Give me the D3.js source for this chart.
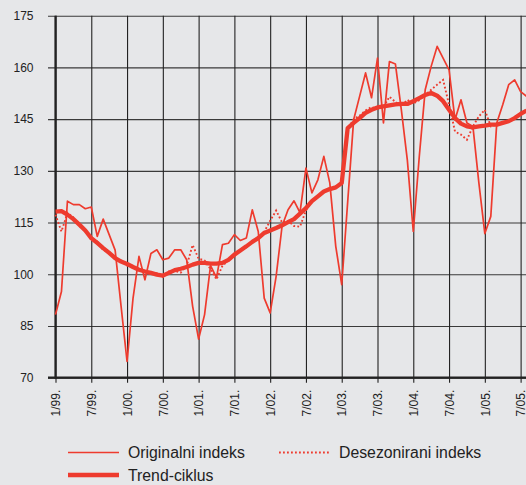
<!DOCTYPE html>
<html>
<head>
<meta charset="utf-8">
<script src="https://cdn.jsdelivr.net/npm/d3@7"></script>
<style>
  html, body { margin: 0; padding: 0; background: #e6e7e9; }
  svg { display: block; font-family: "Liberation Sans", Arial, sans-serif; }
</style>
</head>
<body>
<svg id="chart" width="526" height="485"></svg>
<script>
// mjesečni podaci, 1/99. – 8/05.
const originalni = [
  88.3, 95, 121.2, 120.2, 120.2, 119, 119.5, 111, 116, 111.5, 107, 90.7,
  74.7, 93, 105.2, 98.4, 106, 107.1, 104.2, 104.7, 107.1, 107.1, 104.2, 90.7,
  81.2, 88.3, 102.5, 99, 108.6, 109, 111.5, 109.8, 110.5, 118.7, 112.4, 93.1,
  88.8, 99.4, 114, 118.7, 121.3, 117.9, 130.8, 123.6, 127.4, 134.2, 126.5, 108.1,
  97, 121, 144.8, 151.6, 158.4, 151.2, 162.7, 143.9, 161.7, 161, 147.7, 133.2,
  112.4, 134, 153.5, 160.3, 166.1, 162.7, 159.3, 144.8, 150.6, 143.9, 142.9, 126.5,
  111.8, 116.8, 143.9, 149.2, 155, 156.4, 153, 151.6
];
const desezonirani = [
  117.3, 112.4, 117.8, 116.5, 114, 113, 110, 109.5, 107, 106.5, 104.5, 104,
  102.5, 102.5, 101, 101, 100, 100.3, 99.2, 100.8, 101, 100.5, 102.5, 108.5,
  104.5, 104, 101.5, 98.5, 102.5, 104, 105.3, 107.2, 107.8, 109.7, 110.3, 112.3,
  115.5, 118.5, 115, 115.5, 114, 113.8, 118.5, 121.5, 122.3, 124.3, 124.5, 125.5,
  126.3, 141.9, 145, 146, 147.5, 148.5, 148, 148.5, 151.5, 150, 148.7, 150.6,
  149.5, 150.5, 152, 153.5, 155, 156.4, 149.2, 141.4, 140.5, 139, 142.9, 145.8,
  147.7, 142.9, 143.4, 144, 144.2, 145.5, 146.3, 147.6
];
const trend = [
  118.2, 118.3, 117.3, 116, 114.4, 112.7, 110.5, 109.1, 107.6, 106.2, 104.7, 103.7,
  103, 102.1, 101.3, 100.8, 100.4, 99.9, 99.6, 100.4, 101.2, 101.6, 102.1, 102.8,
  103.3, 103.3, 103.1, 103.1, 103.3, 104.2, 105.7, 106.9, 108.1, 109.4, 110.5, 112,
  112.7, 113.4, 114.2, 115.1, 116, 117.6, 119.2, 121.2, 122.6, 124, 124.7, 125.2,
  126.5, 142.4, 143.9, 145.3, 146.8, 147.7, 148.4, 148.7, 149, 149.3, 149.4, 149.4,
  150.2, 151.1, 152, 152.6, 151.8, 150.2, 147.7, 145.3, 143.7, 142.9, 142.6, 142.9,
  143.1, 143.4, 143.4, 143.9, 144.4, 145.3, 146.5, 147.5
];

const xTickLabels = ['1/99.', '7/99.', '1/00.', '7/00.', '1/01.', '7/01.', '1/02.',
  '7/02.', '1/03.', '7/03.', '1/04.', '7/04.', '1/05.', '7/05.'];
const yTicks = [70, 85, 100, 115, 130, 145, 160, 175];
const legendNames = ['Originalni indeks', 'Desezonirani indeks', 'Trend-ciklus'];

const W = 526, H = 485;
const plotLeft = 55.5, plotTop = 15.7, plotBottom = 377.7;
const red = '#ee3b2e';

const svg = d3.select('#chart');
svg.append('rect').attr('width', W).attr('height', H).attr('fill', '#e6e7e9');

const x = d3.scaleLinear().domain([0, 79]).range([plotLeft, plotLeft + 79 * 5.963]);
const y = d3.scaleLinear().domain([70, 175]).range([plotBottom, plotTop]);

// horizontalna mreža + oznake
const gy = svg.append('g').attr('transform', `translate(${plotLeft},0)`)
  .call(d3.axisLeft(y).tickValues(yTicks).tickSize(-(W - plotLeft)).tickPadding(22));
gy.select('.domain').remove();
gy.selectAll('.tick line').attr('x1', -7.5).attr('stroke', '#3a3a3a').attr('stroke-width', 1.1);
gy.selectAll('.tick text').attr('fill', '#222').style('font-size', '12px')
  .style('font-family', '"Liberation Sans", Arial, sans-serif');

// vertikalna mreža + mjeseci
const tickIdx = xTickLabels.map((d, i) => i * 6);
const gx = svg.append('g').attr('transform', `translate(0,${plotBottom})`)
  .call(d3.axisBottom(x).tickValues(tickIdx).tickSize(-(plotBottom - plotTop))
    .tickFormat((d, i) => xTickLabels[i]));
gx.select('.domain').remove();
gx.selectAll('.tick line').attr('y2', 5).attr('y1', -(plotBottom - plotTop))
  .attr('stroke', '#222').attr('stroke-width', 1.1);
gx.selectAll('.tick text')
  .attr('transform', 'rotate(-90)')
  .attr('text-anchor', 'end')
  .attr('x', -12).attr('y', 0).attr('dy', '0.35em')
  .attr('fill', '#222').style('font-size', '12px')
  .style('font-family', '"Liberation Sans", Arial, sans-serif');

// osi
svg.append('line').attr('x1', plotLeft).attr('x2', plotLeft).attr('y1', plotTop).attr('y2', plotBottom + 1)
  .attr('stroke', '#222').attr('stroke-width', 2.2);
svg.append('line').attr('x1', plotLeft - 7.5).attr('x2', W).attr('y1', plotBottom).attr('y2', plotBottom)
  .attr('stroke', '#222').attr('stroke-width', 2.2);

const line = d3.line().x((d, i) => x(i)).y(d => y(d));

svg.append('path').datum(originalni).attr('d', line)
  .attr('fill', 'none').attr('stroke', red).attr('stroke-width', 1.7).attr('stroke-linejoin', 'round');
svg.append('path').datum(desezonirani).attr('d', line)
  .attr('fill', 'none').attr('stroke', red).attr('stroke-width', 1.9).attr('stroke-dasharray', '1.8,2.2');
svg.append('path').datum(trend).attr('d', line)
  .attr('fill', 'none').attr('stroke', red).attr('stroke-width', 4.3).attr('stroke-linejoin', 'round');

// legenda
const legendPos = [[68, 452.5], [279, 452.5], [68, 475]];
const legendStyle = [{ w: 1.7, dash: null }, { w: 1.9, dash: '1.8,2.2' }, { w: 4.3, dash: null }];
legendNames.forEach((name, i) => {
  const [lx, ly] = legendPos[i];
  svg.append('line').attr('x1', lx).attr('x2', lx + 51).attr('y1', ly).attr('y2', ly)
    .attr('stroke', red).attr('stroke-width', legendStyle[i].w)
    .attr('stroke-dasharray', legendStyle[i].dash);
  svg.append('text').attr('x', lx + 60).attr('y', ly).attr('dy', '0.36em')
    .attr('fill', '#222').style('font-size', '15.8px').text(name);
});
</script>
</body>
</html>
